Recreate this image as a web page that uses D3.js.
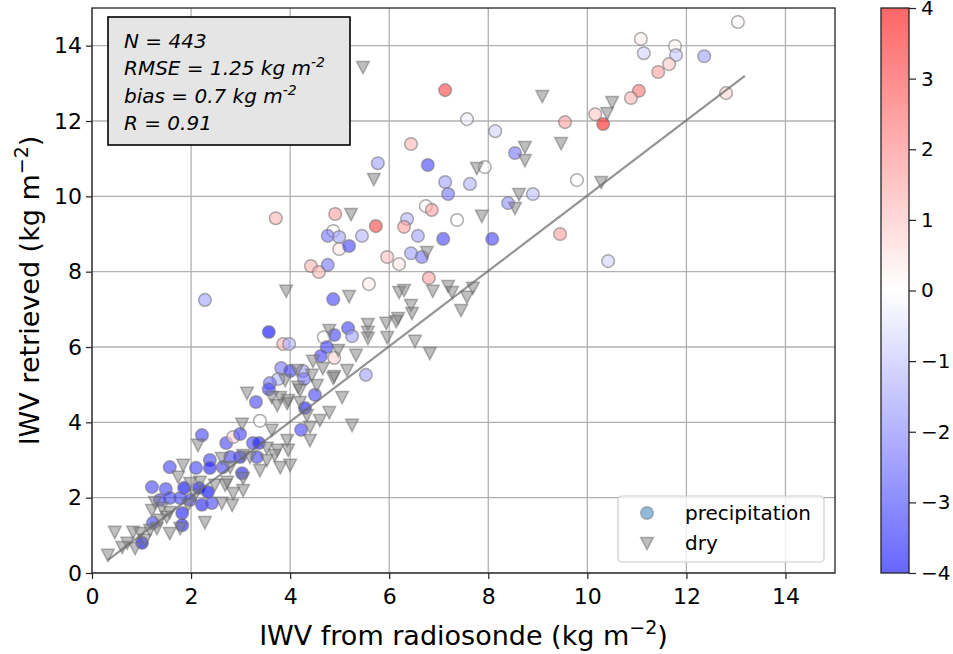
<!DOCTYPE html>
<meta charset="utf-8">
<style>

body {
  margin: 0;
  background: #fff;
}

text {
  font-family: "DejaVu Sans", sans-serif;
  fill: #000;
}

</style>
<body>
<script src="https://cdnjs.cloudflare.com/ajax/libs/d3/7.8.5/d3.min.js"></script>
<script>

// precipitation cases: IWV radiosonde, IWV retrieved, colour value
var precipSonde = [13.04, 11.08, 11.14, 11.77, 11.79, 12.36, 11.65, 11.43, 11.04, 10.88,
  12.80, 7.13, 7.57, 8.14, 9.55, 10.16, 10.32, 6.44, 6.78, 7.13,
  7.19, 7.63, 7.93, 8.54, 9.79, 8.90, 8.40, 6.74, 6.86, 6.36,
  7.37, 5.77, 3.71, 4.91, 4.87, 4.76, 4.99, 4.99, 5.19, 5.45,
  5.73, 6.30, 6.58, 7.09, 8.08, 6.44, 6.66, 5.96, 6.20, 4.42,
  4.58, 4.76, 6.80, 5.59, 4.87, 2.28, 9.45, 10.42, 3.57, 3.86,
  3.98, 5.17, 5.25, 4.89, 4.68, 4.74, 4.62, 4.89, 3.82, 4.00,
  4.26, 4.28, 3.76, 3.59, 3.57, 4.50, 4.30, 3.31, 3.39, 5.53,
  4.22, 2.22, 2.71, 2.85, 2.99, 3.25, 3.37, 3.33, 2.99, 2.79,
  2.38, 1.57, 2.10, 2.38, 2.64, 3.03, 1.21, 1.49, 1.86, 2.16,
  2.34, 1.57, 1.78, 1.98, 2.22, 2.42, 1.82, 1.82, 1.23, 1.01,
  1.37];
var precipRetrieved = [14.63, 14.18, 13.80, 13.99, 13.75, 13.72, 13.51, 13.30, 12.80, 12.61,
  12.74, 12.82, 12.05, 11.73, 11.97, 12.18, 11.92, 11.39, 10.83, 10.38,
  10.06, 10.33, 10.78, 11.15, 10.43, 10.06, 9.82, 9.74, 9.64, 9.40,
  9.37, 10.88, 9.42, 9.53, 9.08, 8.95, 8.92, 8.60, 8.68, 8.95,
  9.21, 9.19, 8.95, 8.87, 8.87, 8.49, 8.39, 8.39, 8.20, 8.15,
  7.99, 8.18, 7.83, 7.67, 7.27, 7.25, 9.00, 8.28, 6.40, 6.08,
  6.08, 6.50, 6.29, 6.32, 6.26, 6.00, 5.76, 5.71, 5.44, 5.36,
  5.36, 5.15, 5.15, 5.04, 4.88, 4.73, 4.38, 4.54, 4.04, 5.26,
  3.80, 3.66, 3.45, 3.61, 3.69, 3.45, 3.45, 3.08, 3.08, 3.08,
  3.00, 2.81, 2.79, 2.79, 2.81, 2.65, 2.28, 2.23, 2.26, 2.26,
  2.15, 1.99, 1.99, 1.94, 1.81, 1.86, 1.59, 1.27, 1.33, 0.80,
  1.94];
var precipDiff = [0.1, 0.3, -0.7, 0.1, -0.9, -1.5, 0.9, 1.5, 2.2, 1.2,
  0.7, 3.0, -0.3, -0.7, 1.5, 0.9, 3.6, 1.2, -3.0, -1.5,
  -2.2, -1.2, 0.0, -2.2, 0.0, -1.0, -1.8, 0.0, 1.5, -1.2,
  0.0, -1.5, 1.2, 1.5, 0.0, -2.2, -1.5, 0.4, -3.0, -1.2,
  3.0, 1.5, -1.5, -3.0, -3.0, -1.5, -2.2, 1.0, 0.4, 1.2,
  1.2, -2.2, 1.5, 0.3, -3.0, -1.5, 1.5, -0.7, -4.0, 1.2,
  -1.2, -3.0, -1.5, -3.0, 0.0, -3.0, -3.0, 0.7, -2.2, -3.0,
  -1.5, -2.2, -1.2, -2.2, -3.0, -3.0, -3.6, -3.0, 0.0, -1.5,
  -3.0, -3.0, -3.0, 0.7, -3.0, -3.0, -3.6, -3.0, -3.6, -3.0,
  -3.0, -3.0, -3.0, -3.6, -3.0, -3.6, -3.0, -3.0, -4.0, -4.0,
  -4.0, -3.0, -3.0, -3.0, -3.6, -3.0, -3.6, -3.6, -3.0, -4.0,
  -3.0];

// dry cases: IWV radiosonde, IWV retrieved
var drySonde = [5.47, 9.09, 10.50, 10.40, 8.74, 8.74, 9.47, 7.77, 10.28, 8.62,
  8.54, 7.87, 5.69, 5.23, 6.76, 3.92, 5.19, 6.20, 6.30, 6.88,
  7.19, 7.27, 7.69, 7.57, 7.45, 6.44, 6.46, 6.18, 6.14, 5.94,
  5.57, 5.57, 5.57, 5.96, 6.52, 6.82, 4.79, 4.97, 4.46, 4.66,
  4.89, 5.15, 5.05, 4.79, 5.25, 4.34, 3.94, 3.80, 3.13, 3.03,
  4.54, 4.16, 4.44, 3.90, 3.96, 3.63, 3.74, 4.20, 4.87, 4.20,
  4.40, 2.14, 1.84, 1.74, 2.62, 2.79, 3.19, 3.53, 3.74, 3.96,
  3.53, 3.80, 3.05, 2.73, 2.18, 1.98, 3.05, 2.69, 2.85, 2.62,
  2.83, 2.28, 1.78, 1.57, 1.31, 1.41, 1.21, 0.46, 0.83, 0.71,
  0.61, 0.97, 0.32, 3.05, 3.63, 3.94, 1.51, 1.27, 4.14, 4.00,
  1.07, 0.87, 1.17, 1.37, 1.57, 1.94, 2.08, 2.48, 3.39, 3.69,
  4.40, 4.60, 5.33];
var dryRetrieved = [13.43, 12.66, 12.50, 12.21, 11.31, 10.96, 11.41, 10.75, 10.38, 10.06,
  9.69, 9.48, 10.46, 9.53, 8.52, 7.49, 7.35, 7.46, 7.51, 7.49,
  7.62, 7.46, 7.57, 7.33, 6.98, 7.11, 6.90, 6.77, 6.69, 6.64,
  6.61, 6.40, 6.24, 6.26, 6.16, 5.84, 6.45, 5.92, 5.63, 5.44,
  5.23, 5.39, 4.67, 4.27, 3.93, 4.19, 4.51, 4.67, 4.78, 3.96,
  4.99, 4.94, 5.26, 5.12, 4.59, 4.67, 4.46, 4.54, 5.18, 4.86,
  3.88, 3.40, 2.87, 2.55, 3.05, 2.81, 3.08, 3.00, 3.27, 3.27,
  3.32, 2.81, 2.52, 2.42, 2.42, 2.39, 2.20, 2.34, 2.12, 1.86,
  1.81, 1.35, 1.19, 1.06, 1.19, 1.73, 1.67, 1.09, 1.09, 0.80,
  0.69, 1.06, 0.48, 3.13, 3.80, 3.53, 1.49, 1.88, 5.39, 2.87,
  0.88, 0.66, 1.14, 1.41, 1.62, 1.81, 2.07, 2.34, 2.73, 3.13,
  3.53, 4.06, 5.79];

// linear fit
var fitSlope = 1.0,
    fitIntercept = 0.02,
    fitRange = [0.32, 13.18];

var axisTicks = [0, 2, 4, 6, 8, 10, 12, 14],
    colorTicks = [-4, -3, -2, -1, 0, 1, 2, 3, 4];

var statLines = [
  {text: "N = 443", sup: ""},
  {text: "RMSE = 1.25 kg m", sup: "-2"},
  {text: "bias = 0.7 kg m", sup: "-2"},
  {text: "R = 0.91", sup: ""}
];

var legendItems = ["precipitation", "dry"];

var width = 953,
    height = 654,
    margin = {top: 8, right: 118, bottom: 81, left: 92},
    plotW = width - margin.left - margin.right,
    plotH = height - margin.top - margin.bottom;

var x = d3.scaleLinear().domain([0, 15]).range([margin.left, margin.left + plotW]);
var y = d3.scaleLinear().domain([0, 15]).range([margin.top + plotH, margin.top]);
var color = d3.scaleLinear().domain([-4, 0, 4]).range(["#0000ff", "#ffffff", "#ff0000"]);
var cbarY = d3.scaleLinear().domain([-4, 4]).range([margin.top + plotH, margin.top]);

var pointAlpha = 0.6;

var svg = d3.select("body").append("svg")
    .attr("width", width)
    .attr("height", height);

// grid
var grid = svg.append("g");
grid.selectAll(".gx").data(axisTicks).enter().append("line")
    .attr("x1", function(d) { return x(d); })
    .attr("x2", function(d) { return x(d); })
    .attr("y1", margin.top)
    .attr("y2", margin.top + plotH)
    .attr("stroke", "#b0b0b0")
    .attr("stroke-width", 1.3);
grid.selectAll(".gy").data(axisTicks).enter().append("line")
    .attr("y1", function(d) { return y(d); })
    .attr("y2", function(d) { return y(d); })
    .attr("x1", margin.left)
    .attr("x2", margin.left + plotW)
    .attr("stroke", "#b0b0b0")
    .attr("stroke-width", 1.3);

// precipitation circles
var precip = precipSonde.map(function(d, i) {
  return {x: d, y: precipRetrieved[i], c: precipDiff[i]};
});

svg.append("g").selectAll("circle")
    .data(precip)
  .enter().append("circle")
    .attr("cx", function(d) { return x(d.x); })
    .attr("cy", function(d) { return y(d.y); })
    .attr("r", 6.3)
    .attr("fill", function(d) { return color(d.c); })
    .attr("fill-opacity", pointAlpha)
    .attr("stroke", "#777")
    .attr("stroke-opacity", 0.6)
    .attr("stroke-width", 1.5);

// dry triangles (pointing down)
var tri = "M-6.3,-5.6L6.3,-5.6L0,6.6Z";
var dry = drySonde.map(function(d, i) { return {x: d, y: dryRetrieved[i]}; });

svg.append("g").selectAll("path")
    .data(dry)
  .enter().append("path")
    .attr("d", tri)
    .attr("transform", function(d) { return "translate(" + x(d.x) + "," + y(d.y) + ")"; })
    .attr("fill", "#808080")
    .attr("fill-opacity", 0.5)
    .attr("stroke", "#666")
    .attr("stroke-opacity", 0.5)
    .attr("stroke-width", 1.5);

// fit line
svg.append("line")
    .attr("x1", x(fitRange[0]))
    .attr("y1", y(fitSlope * fitRange[0] + fitIntercept))
    .attr("x2", x(fitRange[1]))
    .attr("y2", y(fitSlope * fitRange[1] + fitIntercept))
    .attr("stroke", "#666")
    .attr("stroke-opacity", 0.7)
    .attr("stroke-width", 2.2);

// frame
svg.append("rect")
    .attr("x", margin.left)
    .attr("y", margin.top)
    .attr("width", plotW)
    .attr("height", plotH)
    .attr("fill", "none")
    .attr("stroke", "#222")
    .attr("stroke-width", 1.3);

// axes
var xAxis = svg.append("g")
    .attr("transform", "translate(0," + (margin.top + plotH) + ")")
    .call(d3.axisBottom(x).tickValues(axisTicks).tickSize(6).tickPadding(9));
var yAxis = svg.append("g")
    .attr("transform", "translate(" + margin.left + ",0)")
    .call(d3.axisLeft(y).tickValues(axisTicks).tickSize(6).tickPadding(4));

[xAxis, yAxis].forEach(function(a) {
  a.select(".domain").remove();
  a.selectAll("line").attr("stroke", "#222").attr("stroke-width", 1.2);
  a.selectAll("text").style("font-size", "22px").style("font-family", "DejaVu Sans");
});

// axis labels
var xl = svg.append("text")
    .attr("x", x(7.5))
    .attr("y", 645)
    .attr("text-anchor", "middle")
    .style("font-size", "27px");
xl.append("tspan").text("IWV from radiosonde (kg m");
xl.append("tspan").attr("dy", -11).style("font-size", "19px").text("\u22122");
xl.append("tspan").attr("dy", 11).text(")");

var yl = svg.append("text")
    .attr("transform", "translate(39," + y(7.5) + ") rotate(-90)")
    .attr("text-anchor", "middle")
    .style("font-size", "27px");
yl.append("tspan").text("IWV retrieved (kg m");
yl.append("tspan").attr("dy", -11).style("font-size", "19px").text("\u22122");
yl.append("tspan").attr("dy", 11).text(")");

// stats box
var box = svg.append("g");
box.append("rect")
    .attr("x", 108)
    .attr("y", 17)
    .attr("width", 242)
    .attr("height", 128)
    .attr("fill", "#e5e5e5")
    .attr("stroke", "#000")
    .attr("stroke-width", 1.6);

box.selectAll("text").data(statLines).enter().append("text")
    .attr("x", 124)
    .attr("y", function(d, i) { return 48 + i * 27.3; })
    .style("font-size", "20px")
    .style("font-style", "italic")
    .each(function(d) {
      var t = d3.select(this);
      t.append("tspan").text(d.text);
      if (d.sup) t.append("tspan").attr("dy", -8).style("font-size", "14px").text(d.sup);
    });

// legend
var lg = svg.append("g").attr("transform", "translate(618,496)");
lg.append("rect")
    .attr("width", 206)
    .attr("height", 66)
    .attr("rx", 4)
    .attr("fill", "#fff")
    .attr("fill-opacity", 0.8)
    .attr("stroke", "#ccc")
    .attr("stroke-width", 1.2);
lg.append("circle")
    .attr("cx", 29)
    .attr("cy", 17)
    .attr("r", 6.3)
    .attr("fill", "#1f77b4")
    .attr("fill-opacity", 0.5)
    .attr("stroke", "#777")
    .attr("stroke-opacity", 0.5)
    .attr("stroke-width", 1.5);
lg.append("path")
    .attr("d", tri)
    .attr("transform", "translate(29,47)")
    .attr("fill", "#808080")
    .attr("fill-opacity", 0.5)
    .attr("stroke", "#666")
    .attr("stroke-opacity", 0.5)
    .attr("stroke-width", 1.5);
lg.selectAll(".lt").data(legendItems).enter().append("text")
    .attr("x", 67)
    .attr("y", function(d, i) { return 24 + i * 30; })
    .style("font-size", "20px")
    .text(function(d) { return d; });

// colorbar
var cbX = 881, cbW = 28;
var grad = svg.append("defs").append("linearGradient")
    .attr("id", "cbar")
    .attr("x1", 0).attr("y1", 1).attr("x2", 0).attr("y2", 0);
grad.selectAll("stop").data(colorTicks).enter().append("stop")
    .attr("offset", function(d) { return (d + 4) / 8; })
    .attr("stop-color", function(d) { return color(d); })
    .attr("stop-opacity", pointAlpha);

svg.append("rect")
    .attr("x", cbX)
    .attr("y", margin.top)
    .attr("width", cbW)
    .attr("height", plotH)
    .attr("fill", "url(#cbar)")
    .attr("stroke", "#222")
    .attr("stroke-width", 1.3);

var cAxis = svg.append("g")
    .attr("transform", "translate(" + (cbX + cbW) + ",0)")
    .call(d3.axisRight(cbarY).tickValues(colorTicks).tickSize(7).tickPadding(5)
      .tickFormat(function(d) { return d < 0 ? "\u2212" + Math.abs(d) : d; }));
cAxis.select(".domain").remove();
cAxis.selectAll("line").attr("stroke", "#222").attr("stroke-width", 1.2);
cAxis.selectAll("text").style("font-size", "20px").style("font-family", "DejaVu Sans");

</script>
